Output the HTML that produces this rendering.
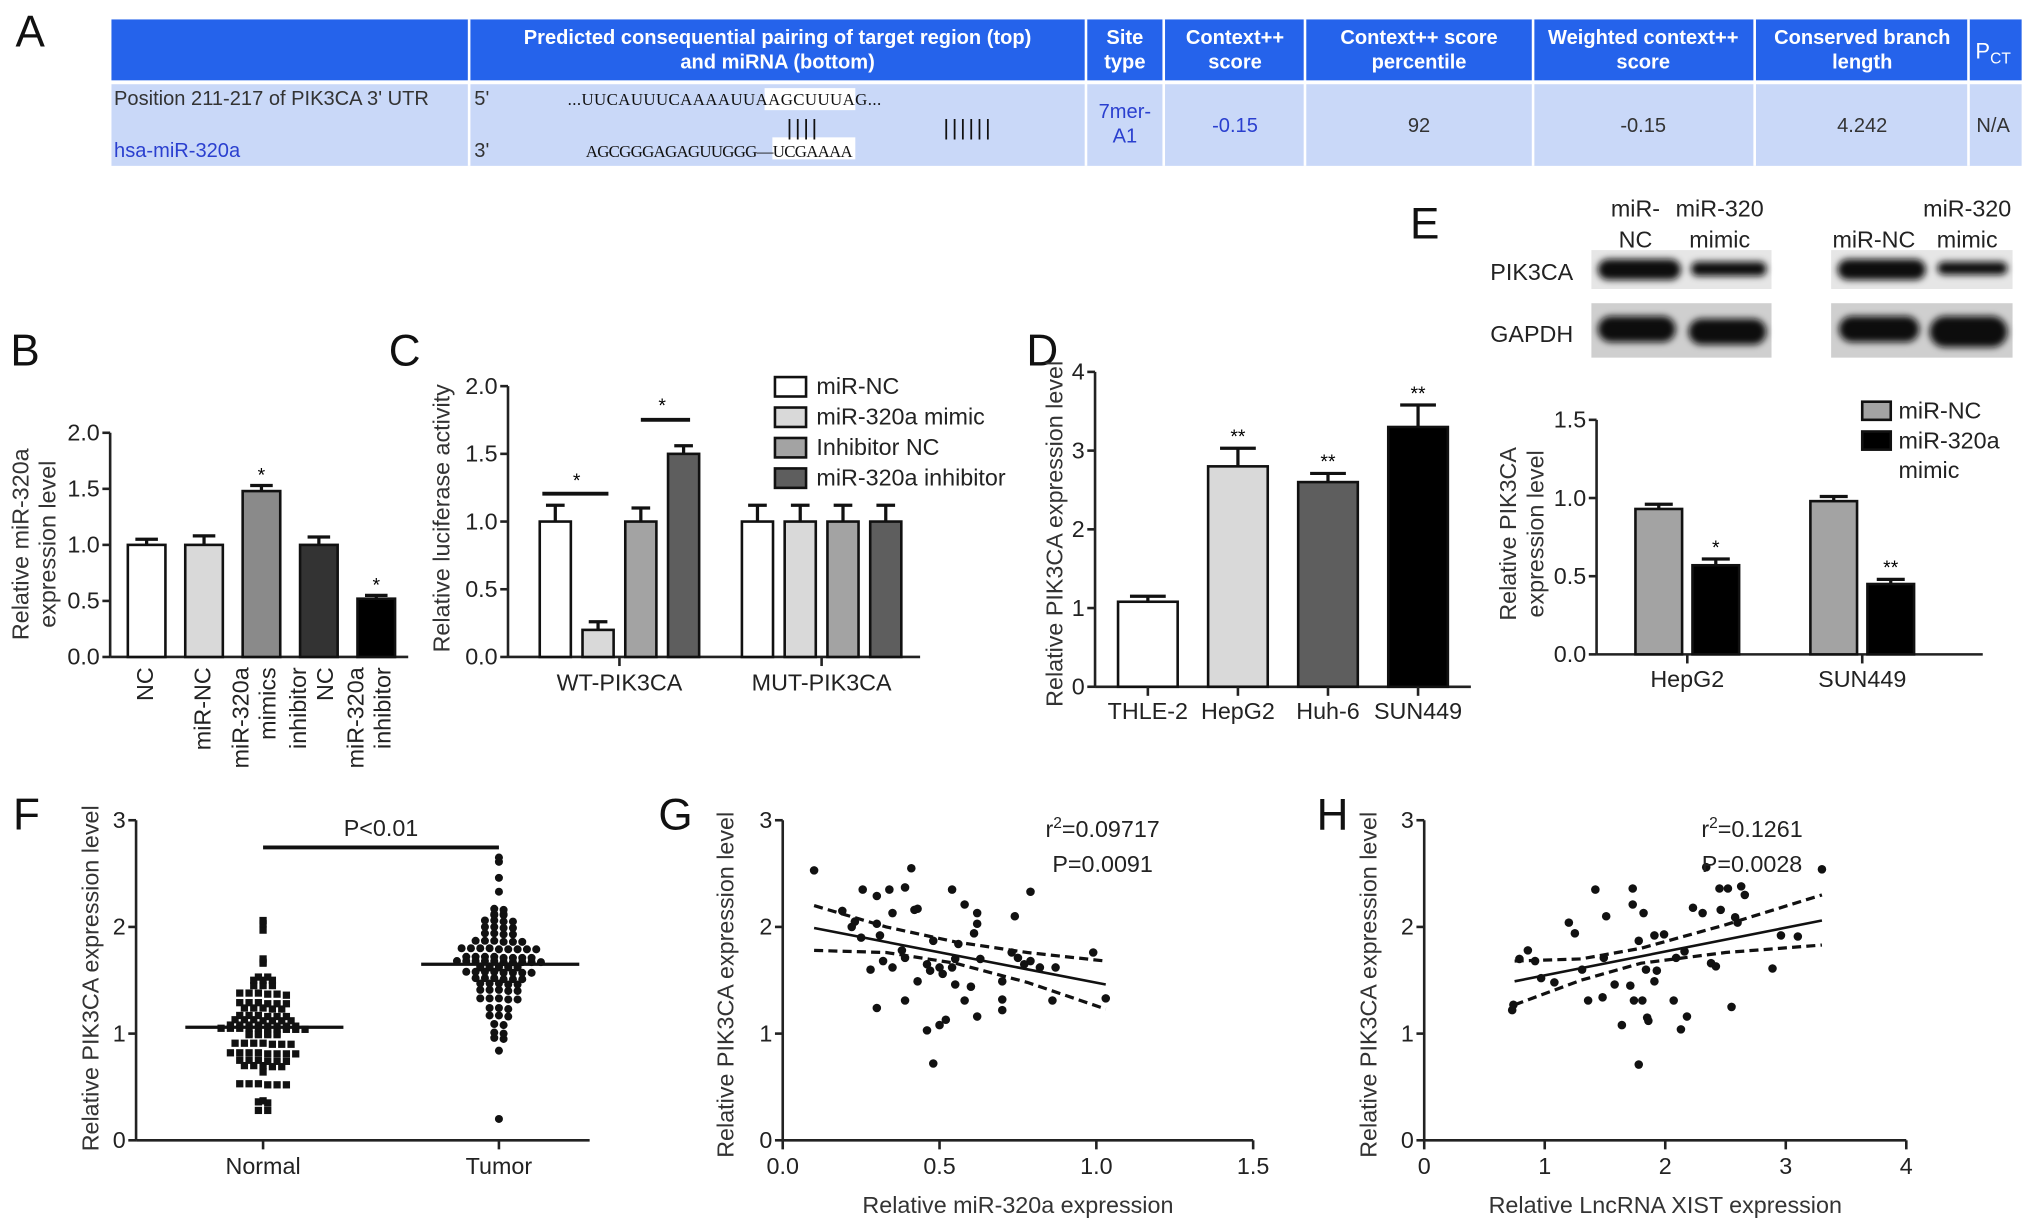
<!DOCTYPE html>
<html><head><meta charset="utf-8">
<style>
html,body{margin:0;padding:0;background:#fff;}
svg{display:block;font-family:"Liberation Sans",Arial,sans-serif;}
</style></head>
<body>
<svg id="fig" width="2032" height="1231" viewBox="0 0 1568 950" preserveAspectRatio="none" xmlns="http://www.w3.org/2000/svg">
<defs>
<filter id="blur" x="-20%" y="-50%" width="140%" height="200%"><feGaussianBlur stdDeviation="2.6"/></filter>
</defs>
<g>
<rect x="86" y="15" width="1474" height="47" fill="#2563eb"/>
<rect x="86" y="65" width="1474" height="63" fill="#c9d8f8"/>
<g stroke="#fff" stroke-width="2">
<line x1="362" y1="15" x2="362" y2="128"/><line x1="838" y1="15" x2="838" y2="128"/>
<line x1="898" y1="15" x2="898" y2="128"/><line x1="1007" y1="15" x2="1007" y2="128"/>
<line x1="1183" y1="15" x2="1183" y2="128"/><line x1="1354" y1="15" x2="1354" y2="128"/>
<line x1="1519" y1="15" x2="1519" y2="128"/>
</g>
<g fill="#fff" font-weight="bold" font-size="15.5" text-anchor="middle">
<text x="600" y="34">Predicted consequential pairing of target region (top)<tspan x="600" dy="19">and miRNA (bottom)</tspan></text>
<text x="868" y="34">Site<tspan x="868" dy="19">type</tspan></text>
<text x="953" y="34">Context++<tspan x="953" dy="19">score</tspan></text>
<text x="1095" y="34">Context++ score<tspan x="1095" dy="19">percentile</tspan></text>
<text x="1268" y="34">Weighted context++<tspan x="1268" dy="19">score</tspan></text>
<text x="1437" y="34">Conserved branch<tspan x="1437" dy="19">length</tspan></text>
<text x="1538" y="45" font-size="17" font-weight="normal">P<tspan font-size="12" dy="4">CT</tspan></text>
</g>
<g font-size="15.5">
<text x="88" y="81" fill="#333">Position 211-217 of PIK3CA 3' UTR</text>
<text x="88" y="121" fill="#2a3fcf">hsa-miR-320a</text>
<text x="366" y="81" fill="#333">5'</text><text x="366" y="121" fill="#333">3'</text>
<rect x="590" y="68" width="70" height="17" fill="#fff"/>
<rect x="596" y="106" width="64" height="17" fill="#fff"/>
<text x="438" y="81" font-family="Liberation Serif,serif" font-size="13" fill="#111" textLength="242">...UUCAUUUCAAAAUUAAGCUUUAG...</text>
<text x="607" y="104" font-size="17" fill="#111" letter-spacing="2">||||</text>
<text x="728" y="104" font-size="17" fill="#111" letter-spacing="2">||||||</text>
<text x="452" y="121" font-family="Liberation Serif,serif" font-size="13" fill="#111" textLength="206">AGCGGGAGAGUUGGG—UCGAAAA</text>
<g fill="#2a3fcf" text-anchor="middle">
<text x="868" y="91">7mer-<tspan x="868" dy="19">A1</tspan></text>
<text x="953" y="102">-0.15</text>
</g>
<g fill="#333" text-anchor="middle">
<text x="1095" y="102">92</text><text x="1268" y="102">-0.15</text>
<text x="1437" y="102">4.242</text><text x="1538" y="102">N/A</text>
</g>
</g>
</g>
<g font-size="34" fill="#111">
<text x="12" y="36">A</text>
<text x="8" y="282">B</text>
<text x="300" y="282">C</text>
<text x="792" y="282">D</text>
<text x="1088" y="184">E</text>
<text x="10" y="640">F</text>
<text x="508" y="640">G</text>
<text x="1016" y="640">H</text>
</g>
<g>
<g font-size="18" fill="#222" text-anchor="middle">
<text x="1262" y="167">miR-<tspan x="1262" dy="24">NC</tspan></text>
<text x="1327" y="167">miR-320<tspan x="1327" dy="24">mimic</tspan></text>
<text x="1446" y="191">miR-NC</text>
<text x="1518" y="167">miR-320<tspan x="1518" dy="24">mimic</tspan></text>
</g>
<text x="1150" y="216" font-size="18" fill="#222">PIK3CA</text>
<text x="1150" y="264" font-size="18" fill="#222">GAPDH</text>
<rect x="1228" y="193" width="139" height="30" fill="#e6e6e6"/>
<rect x="1413" y="193" width="140" height="30" fill="#e6e6e6"/>
<rect x="1228" y="234" width="139" height="42" fill="#cfcfcf"/>
<rect x="1413" y="234" width="140" height="42" fill="#cfcfcf"/>
<g fill="#111" filter="url(#blur)">
<rect x="1233" y="200" width="64" height="16" rx="8"/>
<rect x="1305" y="202" width="58" height="11" rx="5"/>
<rect x="1418" y="200" width="68" height="16" rx="8"/>
<rect x="1495" y="202" width="54" height="10" rx="5"/>
<rect x="1233" y="244" width="60" height="20" rx="10"/>
<rect x="1303" y="246" width="60" height="20" rx="10"/>
<rect x="1419" y="244" width="62" height="20" rx="10"/>
<rect x="1489" y="244" width="60" height="24" rx="12"/>
</g>
</g>
<g id="charts"></g>
</svg>
<script>
const bCategories = ["NC","miR-NC","miR-320a mimics","inhibitor NC","miR-320a inhibitor"];
const bValues = [1.0, 1.0, 1.48, 1.0, 0.52];
const bErrors = [0.05, 0.08, 0.05, 0.07, 0.03];
const bSig = ["", "", "*", "", "*"];
const bTicks = ["0.0","0.5","1.0","1.5","2.0"];

const cGroups = ["WT-PIK3CA","MUT-PIK3CA"];
const cSeries = ["miR-NC","miR-320a mimic","Inhibitor NC","miR-320a inhibitor"];
const cWT = [1.0, 0.2, 1.0, 1.5];
const cMUT = [1.0, 1.0, 1.0, 1.0];
const cWTErr = [0.12, 0.06, 0.1, 0.06];
const cMUTErr = [0.12, 0.12, 0.12, 0.12];
const cTicks = ["0.0","0.5","1.0","1.5","2.0"];

const dCategories = ["THLE-2","HepG2","Huh-6","SUN449"];
const dValues = [1.08, 2.8, 2.6, 3.3];
const dErrors = [0.07, 0.23, 0.11, 0.28];
const dSig = ["", "**", "**", "**"];
const dTicks = ["0","1","2","3","4"];

const eGroups = ["HepG2","SUN449"];
const eSeries = ["miR-NC","miR-320a mimic"];
const eNC = [0.93, 0.98];
const eMimic = [0.57, 0.45];
const eNCErr = [0.03, 0.03];
const eMimicErr = [0.04, 0.03];
const eSig = ["*", "**"];
const eTicks = ["0.0","0.5","1.0","1.5"];

const fCategories = ["Normal","Tumor"];
const fNormal = [2.06,2.03,1.97,1.70,1.67,1.66,1.53,1.53,1.50,1.50,1.50,1.45,1.45,1.45,
 1.38,1.38,1.38,1.37,1.37,1.36,1.29,1.29,1.29,1.28,1.28,1.28,1.24,1.24,1.24,1.23,1.23,
 1.17,1.17,1.17,1.16,1.16,1.16,1.13,1.13,1.13,1.12,1.12,1.12,1.12,
 1.08,1.08,1.08,1.08,1.07,1.07,1.07,1.07,1.05,1.05,1.05,1.05,1.05,1.04,1.04,1.04,1.04,1.04,
 1.00,1.00,1.00,1.00,0.99,0.99,0.99,0.99,0.91,0.91,0.91,0.91,0.90,0.90,0.90,
 0.82,0.82,0.82,0.82,0.81,0.81,0.81,0.81,0.75,0.75,0.75,0.74,0.74,0.74,
 0.70,0.70,0.70,0.69,0.69,0.64,0.53,0.53,0.53,0.52,0.52,0.52,0.37,0.36,0.35,0.28,0.28];
const fTumor = [2.65,2.61,2.46,2.33,2.17,2.16,2.12,2.12,2.11,2.11,2.06,2.06,2.05,2.05,
 2.00,2.00,1.99,1.99,1.94,1.94,1.93,1.93,1.87,1.87,1.87,1.86,1.86,1.86,
 1.80,1.80,1.80,1.80,1.79,1.79,1.79,1.79,1.79,1.72,1.72,1.72,1.72,1.71,1.71,1.71,1.71,
 1.68,1.68,1.68,1.68,1.68,1.67,1.67,1.67,1.67,1.67,1.63,1.63,1.63,1.63,1.63,1.62,1.62,1.62,1.62,1.62,
 1.58,1.58,1.58,1.58,1.57,1.57,1.57,1.57,1.52,1.52,1.52,1.51,1.51,1.51,1.47,1.47,1.47,1.46,1.46,
 1.41,1.41,1.41,1.40,1.40,1.33,1.33,1.33,1.32,1.32,1.24,1.24,1.23,1.17,1.17,1.16,
 1.09,1.08,1.01,1.00,0.96,0.95,0.84,0.20];
const fMedians = [1.06, 1.65];
const fTicks = ["0","1","2","3"];

const gX = [0.10,0.255,0.30,0.34,0.39,0.41,0.54,0.79,0.19,0.23,0.25,0.30,0.31,0.35,0.42,0.43,0.58,0.62,0.62,0.61,0.74,
 0.28,0.32,0.35,0.38,0.39,0.43,0.30,0.39,0.46,0.47,0.50,0.51,0.54,0.55,0.56,0.63,0.55,0.60,0.58,0.62,0.70,0.70,0.70,
 0.73,0.75,0.77,0.79,0.82,0.87,0.86,0.99,1.03,0.46,0.50,0.52,0.48,0.22,0.48];
const gY = [2.53,2.35,2.29,2.35,2.37,2.55,2.35,2.33,2.15,2.05,1.90,2.03,1.92,2.13,2.16,2.17,2.21,2.13,2.03,1.94,2.10,
 1.60,1.68,1.62,1.78,1.71,1.49,1.24,1.31,1.65,1.59,1.62,1.56,1.62,1.70,1.84,1.70,1.46,1.44,1.31,1.16,1.49,1.32,1.22,
 1.76,1.71,1.65,1.68,1.62,1.62,1.31,1.76,1.33,1.03,1.08,1.13,0.72,2.00,1.87];
const gFitX = [0.10, 1.03];
const gFitY = [1.99, 1.46];
const gBandX = [0.10, 0.33, 0.55, 0.78, 1.03];
const gBandUpper = [2.20, 2.00, 1.86, 1.76, 1.68];
const gBandLower = [1.78, 1.76, 1.66, 1.48, 1.23];
const gXTicks = ["0.0","0.5","1.0","1.5"];
const gYTicks = ["0","1","2","3"];

const hX = [0.73,0.74,0.79,0.86,0.92,0.97,1.08,1.20,1.25,1.31,1.36,1.42,1.48,1.49,1.51,1.58,1.64,1.71,1.73,1.73,1.74,1.81,
 1.82,1.78,1.78,1.85,1.86,1.84,1.91,1.91,1.93,1.99,2.07,2.13,2.18,2.23,2.31,2.34,2.38,2.42,2.45,2.46,2.52,2.55,2.58,2.63,
 2.66,2.89,2.96,3.10,3.30,2.09,2.16,2.60];
const hY = [1.22,1.27,1.70,1.78,1.68,1.52,1.48,2.04,1.94,1.60,1.31,2.35,1.34,1.71,2.10,1.46,1.08,1.45,2.36,2.21,1.31,1.31,
 2.13,1.87,0.71,1.15,1.12,1.60,1.49,1.92,1.59,1.93,1.31,1.04,1.16,2.18,2.13,2.56,1.66,1.63,2.36,2.16,2.36,1.25,2.09,2.38,
 2.30,1.61,1.92,1.91,2.54,1.71,1.77,2.04];
const hFitX = [0.75, 3.30];
const hFitY = [1.49, 2.06];
const hBandX = [0.75, 1.30, 1.80, 2.50, 3.30];
const hBandUpper = [1.68, 1.70, 1.80, 2.02, 2.30];
const hBandLower = [1.27, 1.50, 1.66, 1.76, 1.83];
const hXTicks = ["0","1","2","3","4"];
const hYTicks = ["0","1","2","3"];

const NS = "http://www.w3.org/2000/svg";
const root = document.getElementById("charts");
function mk(tag, attrs, parent, name) {
  const el = document.createElementNS(NS, tag);
  for (const k in attrs) el.setAttribute(k, attrs[k]);
  
  
  (parent || root).appendChild(el);
  return el;
}
function txt(s, attrs, parent, name) { const t = mk("text", attrs, parent, name); t.textContent = s; return t; }
function linScale(d0, d1, r0, r1) { return v => r0 + (v - d0) / (d1 - d0) * (r1 - r0); }

function yAxis(g, x, y, ticks, fs) {
  mk("line", {x1:x, y1:y(parseFloat(ticks[ticks.length-1])), x2:x, y2:y(parseFloat(ticks[0])), stroke:"#222", "stroke-width":2}, g, "y-axis-line");
  ticks.forEach(t => {
    const yy = y(parseFloat(t));
    mk("line", {x1:x-6, y1:yy, x2:x, y2:yy, stroke:"#222", "stroke-width":2}, g, "y-tick");
    txt(t, {x:x-8, y:yy+6, "font-size":fs||18, "text-anchor":"end", fill:"#222"}, g, "y-tick-label");
  });
}
function yTitle(g, x, cy, lines, fs) {
  lines.forEach((l, i) => {
    txt(l, {x:0, y:0, transform:`translate(${x + i*(fs+3)},${cy}) rotate(-90)`, "font-size":fs, "text-anchor":"middle", fill:"#333"}, g, "y-axis-title");
  });
}
function bar(g, cx, w, y, v, err, color, name) {
  mk("line", {x1:cx, y1:y(v), x2:cx, y2:y(v+err), stroke:"#111", "stroke-width":2.5}, g, "error-bar");
  mk("line", {x1:cx-w*0.3, y1:y(v+err), x2:cx+w*0.3, y2:y(v+err), stroke:"#111", "stroke-width":2.5}, g, "error-cap");
  mk("rect", {x:cx-w/2, y:y(v), width:w, height:y(0)-y(v), fill:color, stroke:"#111", "stroke-width":2}, g, name);
}

(function(){
  const g = mk("g", {}, root, "panel-b-chart");
  const y = linScale(0, 2, 507, 334);
  const colors = ["#fff","#d9d9d9","#8a8a8a","#333","#000"];
  const step = 44.3, start = 91;
  yAxis(g, 85, y, bTicks);
  mk("line", {x1:85, y1:507, x2:315, y2:507, stroke:"#222", "stroke-width":2}, g, "x-axis-line");
  bCategories.forEach((c, i) => {
    const cx = start + step*(i+0.5);
    bar(g, cx, 29, y, bValues[i], bErrors[i], colors[i], "bar-" + i);
    if (bSig[i]) txt(bSig[i], {x:cx, y:y(bValues[i]+bErrors[i])-3, "font-size":15, "text-anchor":"middle"}, g, "significance-mark");
    const words = c.split(" ");
    const lines = words.length > 1 ? [words.slice(0, words.length-1).join(" "), words[words.length-1]] : [c];
    lines.forEach((l, j) => {
      const lx = cx + (lines.length === 2 ? (j === 0 ? -10 : 11) : 5);
      txt(l, {x:0, y:0, transform:`translate(${lx},515) rotate(-90)`, "font-size":18, "text-anchor":"end", fill:"#222"}, g, "x-tick-label");
    });
  });
  yTitle(g, 22, 420, ["Relative miR-320a","expression level"], 18);
})();

(function(){
  const g = mk("g", {}, root, "panel-c-chart");
  const y = linScale(0, 2, 507, 298);
  const colors = ["#fff","#d9d9d9","#a3a3a3","#5e5e5e"];
  const gc = [478, 634], bs = 33;
  yAxis(g, 392, y, cTicks);
  mk("line", {x1:392, y1:507, x2:710, y2:507, stroke:"#222", "stroke-width":2}, g, "x-axis-line");
  [cWT, cMUT].forEach((vals, gi) => {
    const errs = gi === 0 ? cWTErr : cMUTErr;
    vals.forEach((v, j) => bar(g, gc[gi] + (j-1.5)*bs, 24, y, v, errs[j], colors[j], "bar-" + cGroups[gi] + "-" + j));
    mk("line", {x1:gc[gi], y1:507, x2:gc[gi], y2:514, stroke:"#222", "stroke-width":2}, g, "x-tick");
    txt(cGroups[gi], {x:gc[gi], y:533, "font-size":18, "text-anchor":"middle", fill:"#222"}, g, "x-tick-label");
  });
  const s1 = y(cWT[0]+cWTErr[0]) - 9, s2 = y(cWT[3]+cWTErr[3]) - 20;
  mk("line", {x1:gc[0]-1.5*bs-10, y1:s1, x2:gc[0]-0.5*bs+8, y2:s1, stroke:"#111", "stroke-width":3}, g, "significance-line");
  txt("*", {x:gc[0]-bs, y:s1-5, "font-size":15, "text-anchor":"middle"}, g, "significance-mark");
  mk("line", {x1:gc[0]+0.5*bs, y1:s2, x2:gc[0]+1.5*bs+5, y2:s2, stroke:"#111", "stroke-width":3}, g, "significance-line");
  txt("*", {x:gc[0]+bs, y:s2-6, "font-size":15, "text-anchor":"middle"}, g, "significance-mark");
  cSeries.forEach((s, j) => {
    mk("rect", {x:598, y:291+j*23.5, width:24, height:15, fill:colors[j], stroke:"#111", "stroke-width":2}, g, "legend-swatch");
    txt(s, {x:630, y:304+j*23.5, "font-size":18, fill:"#222"}, g, "legend-entry");
  });
  yTitle(g, 347, 400, ["Relative luciferase activity"], 18);
})();

(function(){
  const g = mk("g", {}, root, "panel-d-chart");
  const y = linScale(0, 4, 530, 287);
  const colors = ["#fff","#d9d9d9","#5e5e5e","#000"];
  const start = 851, step = 69.5;
  yAxis(g, 845, y, dTicks);
  mk("line", {x1:845, y1:530, x2:1135, y2:530, stroke:"#222", "stroke-width":2}, g, "x-axis-line");
  dCategories.forEach((c, i) => {
    const cx = start + step*(i+0.5);
    bar(g, cx, 46, y, dValues[i], dErrors[i], colors[i], "bar-" + c);
    mk("line", {x1:cx, y1:530, x2:cx, y2:537, stroke:"#222", "stroke-width":2}, g, "x-tick");
    if (dSig[i]) txt(dSig[i], {x:cx, y:y(dValues[i]+dErrors[i])-4, "font-size":15, "text-anchor":"middle"}, g, "significance-mark");
    txt(c, {x:cx, y:537+18, "font-size":18, "text-anchor":"middle", fill:"#222"}, g, "x-tick-label");
  });
  yTitle(g, 820, 412, ["Relative PIK3CA expression level"], 18);
})();

(function(){
  const g = mk("g", {}, root, "panel-e-chart");
  const y = linScale(0, 1.5, 505, 324);
  const colors = ["#a3a3a3","#000"];
  const gc = [1302, 1437];
  yAxis(g, 1232, y, eTicks);
  mk("line", {x1:1232, y1:505, x2:1530, y2:505, stroke:"#222", "stroke-width":2}, g, "x-axis-line");
  eGroups.forEach((gn, i) => {
    bar(g, gc[i]-22, 36, y, eNC[i], eNCErr[i], colors[0], "bar-" + gn + "-nc");
    bar(g, gc[i]+22, 36, y, eMimic[i], eMimicErr[i], colors[1], "bar-" + gn + "-mimic");
    txt(eSig[i], {x:gc[i]+22, y:y(eMimic[i]+eMimicErr[i])-4, "font-size":15, "text-anchor":"middle"}, g, "significance-mark");
    mk("line", {x1:gc[i], y1:505, x2:gc[i], y2:512, stroke:"#222", "stroke-width":2}, g, "x-tick");
    txt(gn, {x:gc[i], y:530, "font-size":18, "text-anchor":"middle", fill:"#222"}, g, "x-tick-label");
  });
  mk("rect", {x:1437, y:310, width:22, height:14, fill:colors[0], stroke:"#111", "stroke-width":2}, g, "legend-swatch");
  txt(eSeries[0], {x:1465, y:323, "font-size":18, fill:"#222"}, g, "legend-entry");
  mk("rect", {x:1437, y:333, width:22, height:14, fill:colors[1], stroke:"#111", "stroke-width":2}, g, "legend-swatch");
  txt("miR-320a", {x:1465, y:346, "font-size":18, fill:"#222"}, g, "legend-entry");
  txt("mimic", {x:1465, y:369, "font-size":18, fill:"#222"}, g, "legend-entry");
  yTitle(g, 1170, 412, ["Relative PIK3CA","expression level"], 18);
})();

(function(){
  const g = mk("g", {}, root, "panel-f-chart");
  const y = linScale(0, 3, 880, 633);
  const cx = [203, 385];
  yAxis(g, 105, y, fTicks);
  mk("line", {x1:105, y1:880, x2:455, y2:880, stroke:"#222", "stroke-width":2}, g, "x-axis-line");
  [fNormal, fTumor].forEach((vals, gi) => {
    const bins = {};
    vals.forEach(v => { const k = Math.round(v / 0.035); (bins[k] = bins[k] || []).push(v); });
    Object.keys(bins).forEach(k => {
      const arr = bins[k];
      arr.forEach((v, j) => {
        const off = (j - (arr.length - 1) / 2) * 7.2;
        if (gi === 0) mk("rect", {x:cx[gi]+off-2.8, y:y(v)-2.8, width:5.6, height:5.6, fill:"#111"}, g, "point-normal");
        else mk("circle", {cx:cx[gi]+off, cy:y(v), r:3.1, fill:"#111"}, g, "point-tumor");
      });
    });
    mk("line", {x1:cx[gi]-60, y1:y(fMedians[gi]), x2:cx[gi]+62, y2:y(fMedians[gi]), stroke:"#111", "stroke-width":2.5}, g, "median-line");
    mk("line", {x1:cx[gi], y1:880, x2:cx[gi], y2:887, stroke:"#222", "stroke-width":2}, g, "x-tick");
    txt(fCategories[gi], {x:cx[gi], y:906, "font-size":18, "text-anchor":"middle", fill:"#222"}, g, "x-tick-label");
  });
  mk("line", {x1:cx[0], y1:654, x2:cx[1], y2:654, stroke:"#111", "stroke-width":3}, g, "significance-line");
  txt("P<0.01", {x:(cx[0]+cx[1])/2, y:645, "font-size":18, "text-anchor":"middle", fill:"#222"}, g, "p-value-label");
  yTitle(g, 76, 755, ["Relative PIK3CA expression level"], 18);
})();

function scatter(name, x0px, x1px, xMax, xs, ys, fitX, fitY, bx, bu, bl, xt, yt, xtitle, r2, p, titleX) {
  const g = mk("g", {}, root, name);
  const x = linScale(0, xMax, x0px, x1px);
  const y = linScale(0, 3, 880, 633);
  yAxis(g, x0px, y, yt);
  mk("line", {x1:x0px, y1:880, x2:x1px, y2:880, stroke:"#222", "stroke-width":2}, g, "x-axis-line");
  xt.forEach(t => {
    const xx = x(parseFloat(t));
    mk("line", {x1:xx, y1:880, x2:xx, y2:887, stroke:"#222", "stroke-width":2}, g, "x-tick");
    txt(t, {x:xx, y:906, "font-size":18, "text-anchor":"middle", fill:"#222"}, g, "x-tick-label");
  });
  xs.forEach((v, i) => mk("circle", {cx:x(v), cy:y(ys[i]), r:3.3, fill:"#111"}, g, "scatter-point"));
  mk("line", {x1:x(fitX[0]), y1:y(fitY[0]), x2:x(fitX[1]), y2:y(fitY[1]), stroke:"#111", "stroke-width":2}, g, "regression-line");
  const up = bx.map((v, i) => x(v) + "," + y(bu[i])).join(" ");
  const lo = bx.map((v, i) => x(v) + "," + y(bl[i])).join(" ");
  mk("polyline", {points:up, fill:"none", stroke:"#111", "stroke-width":2.5, "stroke-dasharray":"7,4"}, g, "confidence-upper");
  mk("polyline", {points:lo, fill:"none", stroke:"#111", "stroke-width":2.5, "stroke-dasharray":"7,4"}, g, "confidence-lower");
  const tx = x1px - (x1px - x0px) * 0.32;
  const t1 = txt("", {x:tx, y:646, "font-size":18, "text-anchor":"middle", fill:"#222"}, g, "r-squared-label");
  t1.innerHTML = 'r<tspan dy="-7" font-size="12">2</tspan><tspan dy="7">' + r2 + '</tspan>';
  txt(p, {x:tx, y:673, "font-size":18, "text-anchor":"middle", fill:"#222"}, g, "p-value-label");
  txt(xtitle, {x:(x0px+x1px)/2, y:936, "font-size":18, "text-anchor":"middle", fill:"#333"}, g, "x-axis-title");
  yTitle(g, titleX, 760, ["Relative PIK3CA expression level"], 18);
}
scatter("panel-g-chart", 604, 967, 1.5, gX, gY, gFitX, gFitY, gBandX, gBandUpper, gBandLower, gXTicks, gYTicks,
  "Relative miR-320a expression", "=0.09717", "P=0.0091", 566);
scatter("panel-h-chart", 1099, 1471, 4, hX, hY, hFitX, hFitY, hBandX, hBandUpper, hBandLower, hXTicks, hYTicks,
  "Relative LncRNA XIST expression", "=0.1261", "P=0.0028", 1062);
</script>
</body></html>
